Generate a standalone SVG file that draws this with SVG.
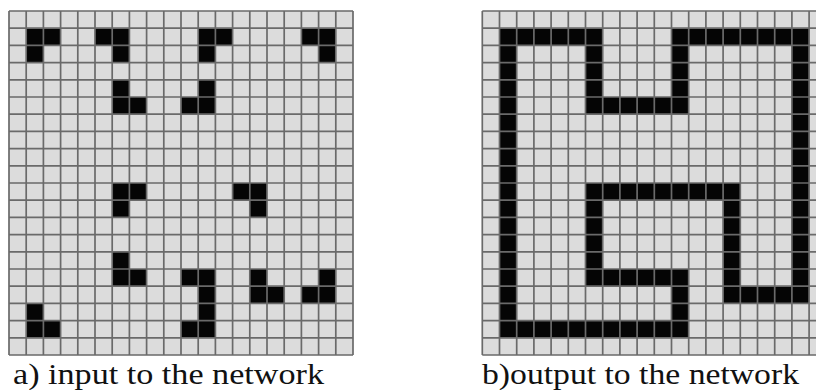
<svg xmlns="http://www.w3.org/2000/svg" width="816" height="390" viewBox="0 0 816 390">
  <defs>
    <style>
      .bg { fill: #dcdcdc; }
      .on { fill: #050505; }
      .grid { fill: none; stroke: #6a6a6a; stroke-width: 1.7; }
      .cap { font-family: "Liberation Serif", "DejaVu Serif", serif; font-size: 29px; fill: #111; }
    </style>
    <path id="lines" d="M0 0V344M17.2 0V344M34.4 0V344M51.6 0V344M68.8 0V344M86 0V344M103.2 0V344M120.4 0V344M137.6 0V344M154.8 0V344M172 0V344M189.2 0V344M206.4 0V344M223.6 0V344M240.8 0V344M258 0V344M275.2 0V344M292.4 0V344M309.6 0V344M326.8 0V344M344 0V344M0 0H344M0 17.2H344M0 34.4H344M0 51.6H344M0 68.8H344M0 86H344M0 103.2H344M0 120.4H344M0 137.6H344M0 154.8H344M0 172H344M0 189.2H344M0 206.4H344M0 223.6H344M0 240.8H344M0 258H344M0 275.2H344M0 292.4H344M0 309.6H344M0 326.8H344M0 344H344"/>
  </defs>
  <rect width="816" height="390" fill="#ffffff"/>

  <g id="grid-input">
    <g transform="translate(9,11) scale(17.2)">
      <rect class="bg" x="0" y="0" width="20" height="20"/>
      <g class="on">
        <rect x="1" y="1" width="2" height="1"/><rect x="1" y="2" width="1" height="1"/>
        <rect x="5" y="1" width="2" height="1"/><rect x="6" y="2" width="1" height="1"/>
        <rect x="11" y="1" width="2" height="1"/><rect x="11" y="2" width="1" height="1"/>
        <rect x="17" y="1" width="2" height="1"/><rect x="18" y="2" width="1" height="1"/>
        <rect x="6" y="4" width="1" height="2"/><rect x="7" y="5" width="1" height="1"/>
        <rect x="11" y="4" width="1" height="2"/><rect x="10" y="5" width="1" height="1"/>
        <rect x="6" y="10" width="2" height="1"/><rect x="6" y="11" width="1" height="1"/>
        <rect x="13" y="10" width="2" height="1"/><rect x="14" y="11" width="1" height="1"/>
        <rect x="6" y="14" width="1" height="2"/><rect x="7" y="15" width="1" height="1"/>
        <rect x="10" y="15" width="2" height="1"/><rect x="11" y="16" width="1" height="2"/><rect x="10" y="18" width="2" height="1"/>
        <rect x="14" y="15" width="1" height="2"/><rect x="15" y="16" width="1" height="1"/>
        <rect x="18" y="15" width="1" height="2"/><rect x="17" y="16" width="1" height="1"/>
        <rect x="1" y="17" width="1" height="2"/><rect x="2" y="18" width="1" height="1"/>
      </g>
    </g>
    <use href="#lines" class="grid" transform="translate(9,11)"/>
  </g>

  <g id="grid-output">
    <g transform="translate(482.3,11) scale(17.2)">
      <rect class="bg" x="0" y="0" width="20" height="20"/>
      <g class="on">
        <rect x="1" y="1" width="6" height="1"/>
        <rect x="1" y="1" width="1" height="18"/>
        <rect x="6" y="1" width="1" height="5"/>
        <rect x="6" y="5" width="6" height="1"/>
        <rect x="11" y="1" width="1" height="5"/>
        <rect x="11" y="1" width="8" height="1"/>
        <rect x="18" y="1" width="1" height="16"/>
        <rect x="14" y="16" width="5" height="1"/>
        <rect x="14" y="10" width="1" height="7"/>
        <rect x="6" y="10" width="9" height="1"/>
        <rect x="6" y="10" width="1" height="6"/>
        <rect x="6" y="15" width="6" height="1"/>
        <rect x="11" y="15" width="1" height="4"/>
        <rect x="1" y="18" width="11" height="1"/>
      </g>
    </g>
    <use href="#lines" class="grid" transform="translate(482.3,11)"/>
  </g>

  <g id="captions">
    <text class="cap" x="13" y="384" textLength="311" lengthAdjust="spacingAndGlyphs">a) input to the network</text>
    <text class="cap" x="482" y="384" textLength="317" lengthAdjust="spacingAndGlyphs">b)output to the network</text>
  </g>
</svg>
